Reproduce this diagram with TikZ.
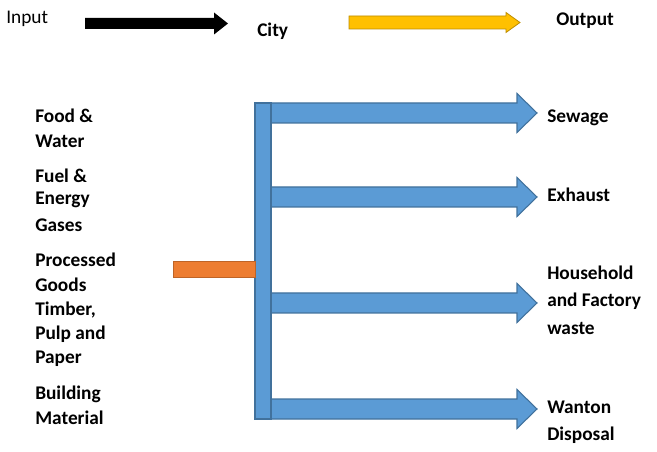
\documentclass[tikz,border=0pt]{standalone}
\usepackage{fontspec}
\setmainfont{Carlito}
\definecolor{bluef}{HTML}{5B9BD5}
\definecolor{blued}{HTML}{41719C}
\definecolor{orangef}{HTML}{ED7D31}
\definecolor{yel}{HTML}{FFC000}
\definecolor{yeld}{HTML}{BC8C00}
\begin{document}
\begin{tikzpicture}[x=0.75pt,y=-0.75pt,
  lbl/.style={font=\fontsize{14.5}{16}\selectfont\bfseries,anchor=west,inner sep=0pt},
  blu/.style={fill=bluef,draw=blued,line width=0.8pt}]
\useasboundingbox (0,0) rectangle (657,452);
\newcommand\myarrow[7]{%
  \path[#1] (#2,#5) -- (#3,#5) -- (#3,{(#5+#6)/2-#7}) -- (#4,{(#5+#6)/2}) -- (#3,{(#5+#6)/2+#7}) -- (#3,#6) -- (#2,#6) -- cycle;}
\node[anchor=west,inner sep=0pt,font=\fontsize{14.5}{16}\selectfont] (in) at (6,19) {Input};
\myarrow{fill=black}{85}{214}{228}{18}{29}{11}
\node[lbl] (city) at (257,31) {City};
\myarrow{fill=yel,draw=yeld,line width=0.6pt}{349}{506}{520}{16}{29}{10}
\node[lbl] (out) at (556,21) {Output};
\myarrow{blu}{266}{517}{537}{103}{123}{19.5}
\myarrow{blu}{266}{517}{537}{187}{207}{19.5}
\myarrow{blu}{266}{517}{537}{293}{313}{19.5}
\myarrow{blu}{266}{517}{537}{399}{419}{19.5}
\path[blu] (255,103) rectangle (271,419);
\path[fill=orangef,draw=orangef!80!black,line width=0.6pt] (173,261) rectangle (255,277);
\foreach \t/\y [count=\i] in {Food \&/116,Water/141,Fuel \&/176,Energy/200,Gases/225,Processed/260,Goods/285,{Timber,}/310,Pulp and/334,Paper/359,Building/394,Material/418}
  \node[lbl] (l\i) at (35,\y) {\t};
\foreach \t/\y [count=\i] in {Sewage/118,Exhaust/195,Household/273,and Factory/301,waste/328,Wanton/407,Disposal/435}
  \node[lbl] (r\i) at (547,\y) {\t};
\end{tikzpicture}
\end{document}
